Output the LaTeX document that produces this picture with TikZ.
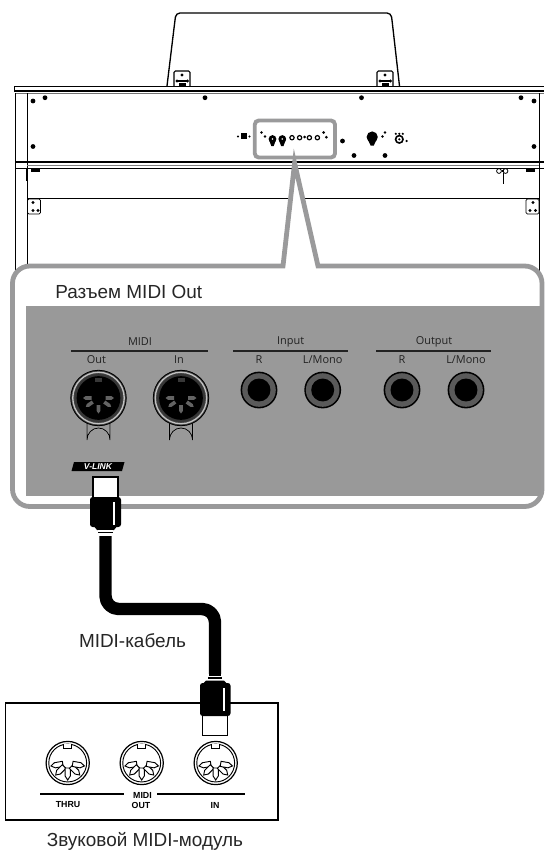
\documentclass[tikz,border=0pt]{standalone}
\usepackage{fontspec}
\setmainfont{Liberation Sans}
\newfontfamily\panelfont{Open Sans}
\definecolor{calloutgrey}{HTML}{9A9A9B}
\definecolor{panelgrey}{HTML}{999999}
\definecolor{ringgrey}{HTML}{5A5A5A}
\definecolor{panelink}{HTML}{222222}
\tikzset{
  ink/.style={draw=black,line width=0.8pt},
  thinink/.style={draw=black,line width=0.5pt},
  screw/.style={circle,fill=black,inner sep=0pt,minimum size=3.6pt},
  paneltext/.style={font=\panelfont\fontsize{8.2}{9}\selectfont,text=panelink,inner sep=0pt},
  bigtext/.style={font=\fontsize{14.2}{16}\selectfont,text=black!85,inner sep=0pt},
  smallbold/.style={font=\bfseries\fontsize{6.6}{7}\selectfont,text=black,inner sep=0pt},
  cablestyle/.style={draw=black,line width=9.3pt,line join=round},
  plugbody/.style={fill=black,rounded corners=2pt},
  plugtip/.style={fill=white,draw=black,line width=1pt},
}
% back-panel jack
\newcommand{\jackat}[2]{%
  \fill[black] (#1,#2) circle[radius=13.8pt];
  \fill[ringgrey] (#1,#2) circle[radius=12.6pt];
  \fill[black] (#1,#2) circle[radius=8.6pt];
}
% grey panel MIDI socket
\newcommand{\gsocket}[2]{%
  \draw[panelgrey!60!white,line width=1pt,fill=panelgrey!88!white]
    ({#1-11.5},{#2+26}) -- ({#1-11.5},{#2+42}) arc[start angle=180,end angle=360,x radius=11.5,y radius=12] -- ({#1+11.5},{#2+26});
  \draw[black,line width=0.6pt,fill=panelgrey] ({#1-11.5},{#2+25}) -- ({#1-11.5},{#2+42}) arc[start angle=180,end angle=360,x radius=11.5,y radius=12] -- ({#1+11.5},{#2+25});
  \fill[black!75] (#1,#2) circle[radius=21pt];
  \draw[panelgrey!60!white,line width=1pt] (#1,#2) circle[radius=19.3pt];
  \draw[black,line width=0.6pt] (#1,#2) circle[radius=20.8pt];
  \fill[panelgrey!35!black] (#1,#2) circle[radius=18pt];
  \fill[black] (#1,#2) circle[radius=16.4pt];
  \fill[black!78] ({#1-3.5},{#2-20}) rectangle ({#1+3.5},{#2-16});
  \foreach \a in {180,215,270,325,360}{
    \begin{scope}[shift={(#1,#2)},rotate=\a]
      \fill[panelgrey!65!black] (7,-1.8) -- (13,-1.8) -- (15.5,0) -- (13,1.8) -- (7,1.8) -- cycle;
    \end{scope}}
}
% line-art DIN socket
\newcommand{\din}[2]{%
  \draw[black,line width=0.9pt,fill=white] (#1,#2) circle[radius=16.2pt];
  \draw[black,line width=0.7pt] (#1,#2) circle[radius=14.2pt];
  \draw[black,line width=0.7pt,fill=white] ({#1-4},{#2-19.5}) -- ({#1-4},{#2-15}) -- ({#1+4},{#2-15}) -- ({#1+4},{#2-19.5});
  \foreach \a in {190,225,270,315,350}{
    \begin{scope}[shift={(#1,#2)},rotate=\a]
      \draw[black,line width=0.7pt,fill=white] (5,-2.6) -- (13,-2.6) -- (17,0) -- (13,2.6) -- (5,2.6) -- cycle;
    \end{scope}}
}
\begin{document}
\begin{tikzpicture}[x=0.75pt,y=-0.75pt]
\useasboundingbox (0,0) rectangle (544,851);
\fill[white] (0,0) rectangle (544,851);

% ---------- piano ----------
% music stand
\draw[ink,line width=1pt,rounded corners=3pt] (167,86) -- (175,20) -- (176,13) -- (391,13) -- (392,20) -- (399.5,86);
% stand brackets
\foreach \bx in {174,377}{
  \draw[ink,fill=white,rounded corners=1pt] (\bx,86) -- (\bx,71) -- ({\bx+16},71) -- ({\bx+16},86);
  \foreach \dx/\dy in {8/75,3/81,13.5/81}{\fill[black] ({\bx+\dx},\dy) circle[radius=1.3pt];}
  \draw[black,line width=0.9pt] ({\bx+3},81) -- ({\bx+13.5},81);
  \fill[black] ({\bx+5},82.5) rectangle ({\bx+12},86);
}
% top board
\fill[white] (14,86) rectangle (544,93);
\draw[black,line width=1.3pt] (14,86.5) -- (544,86.5);
\draw[black,line width=1.4pt] (14,91.2) -- (544,91.2);
\draw[black,line width=0.5pt] (14,86) -- (14,92);
\draw[black!55,line width=0.7pt] (15,93) -- (544,93);
% panel sides and legs
\draw[thinink] (15.6,93) -- (15.6,280);
\draw[thinink,line width=0.7pt] (27.5,93) -- (27.5,280);
\draw[thinink,line width=0.7pt] (539,93) -- (539,280);
\draw[black,line width=1.1pt] (15.6,162) -- (544,162);
\draw[black,line width=0.7pt] (15,168.5) -- (544,168.5);
\draw[black!50,line width=0.5pt] (27,165) -- (539,165);
\draw[black,line width=0.6pt] (27,198) -- (539,198);
% leg brackets
\foreach \bx/\ca/\cb in {27.5/33/38,526/530/536}{
  \draw[ink,line width=0.6pt,rounded corners=1pt] (\bx,199) rectangle ({\bx+13},214);
}
\foreach \px/\py in {33/202.5,33/210.5,38/210.5,533/202.5,530/210.5,535.5/210.5}{\fill[black] (\px,\py) circle[radius=1.2pt];}
% feet
\fill[black] (31,167.5) rectangle (40,171.5);
\fill[black] (526,167.5) rectangle (535,171.5);
\draw[black,line width=1pt] (27,168) -- (27,181);
% pedal cord
\draw[black,line width=0.6pt] (499,171) circle[radius=1.8pt] (505.5,171) circle[radius=1.8pt];
\draw[black,line width=0.8pt] (502,171) -- (503.5,171) (503.5,173) -- (503.5,184);
\draw[black,line width=1.3pt] (503.5,176) -- (503.5,184);
% screws
\foreach \sx/\sy in {33/101,45/97.7,205/97.7,361.5/97.7,521/97.7,534/101,33/146.5,534/146.5,342.5/141,354/155.5,385/155.5}{
  \node[screw] at (\sx,\sy) {};
}
% central jacks
\fill[black] (241,133) rectangle (247,139);
\foreach \sx/\sy in {238,249.5}{\fill[black] (\sx,136.5) circle[radius=0.9pt];}
\foreach \sx/\sy in {261.5/132.5,265/136.5,323.6/132.5,326.4/137.2,382.5/136.5,385/132.5}{
  \fill[black] (\sx,\sy) circle[radius=1.1pt];
}
\foreach \jx in {272.5,282.3}{
  \fill[black] (\jx,139) circle[radius=2.9pt];
  \fill[black] ({\jx-3.4},140) -- ({\jx+3.4},140) -- ({\jx+1.2},146) -- ({\jx-1.2},146) -- cycle;
  \fill[white] (\jx,139) circle[radius=0.7pt];
}
\foreach \jx in {292,299.6,309.4,317.4}{
  \draw[black,line width=0.9pt] (\jx,137.7) circle[radius=1.6pt];
}
\fill[black] (304.6,137) circle[radius=1.1pt];
\fill[black] (372.2,137) circle[radius=4.2pt];
\fill[black] (367.2,138) -- (377.2,138) -- (373.8,145.5) -- (370.6,145.5) -- cycle;
\draw[black,line width=1.2pt] (399.3,139.3) circle[radius=2.8pt];
\fill[black] (399.3,139.3) circle[radius=0.9pt];
\foreach \sx/\sy in {395.8/133.8,399.3/133.8,402.8/133.8,406.6/141}{\fill[black] (\sx,\sy) circle[radius=0.9pt];}

% ---------- highlight and call-out ----------
\draw[calloutgrey,line width=2.9pt,rounded corners=3pt] (254.8,120.5) rectangle (335,157.5);
\draw[calloutgrey,line width=3.6pt,fill=white,line join=miter]
  (294.6,163) -- (283,266) [rounded corners=13pt] -- (12.5,266) -- (12.5,506.5) -- (542,506.5) [rounded corners=13pt] -- (542,266)  [sharp corners] -- (318,266) -- cycle;

% grey panel
\fill[panelgrey] (26,306) rectangle (541,496);
\node[bigtext,anchor=west] (title) at (55,292) {Разъем MIDI Out};

% panel labels
\draw[panelink,line width=0.9pt] (71,351) -- (208,351);
\draw[panelink,line width=0.9pt] (233,351) -- (348,351);
\draw[panelink,line width=0.9pt] (376,351) -- (491,351);
\node[paneltext] (lmidi) at (140,341.5) {MIDI};
\node[paneltext] (linput) at (290.7,341.5) {Input};
\node[paneltext] (loutput) at (434,341.5) {Output};
\node[paneltext] (lout) at (96.5,360) {Out};
\node[paneltext] (lin) at (179,360) {In};
\node[paneltext] (lir) at (259,360) {R};
\node[paneltext] (lil) at (322.7,360) {L/Mono};
\node[paneltext] (lor) at (402,360) {R};
\node[paneltext] (lol) at (466,360) {L/Mono};

\gsocket{98.5}{398}
\gsocket{181}{398}
\jackat{259}{390}
\jackat{322.7}{390}
\jackat{402}{390}
\jackat{466}{390}

% V-LINK badge
\fill[black] (74,462) -- (124.5,462) -- (122,471) -- (71.5,471) -- cycle;
\node[font=\bfseries\itshape\fontsize{6.4}{7}\selectfont,text=white,inner sep=0pt] (vlink) at (98,466.5) {V-LINK};

% ---------- cable ----------
\coordinate (cabletop) at (105.5,536);
\coordinate (bendA) at (105.5,609);
\coordinate (bendB) at (215,609);
\coordinate (cablebottom) at (215,676);
\draw[cablestyle] (cabletop) -- (105.5,596) arc[start angle=180,end angle=90,radius=13] -- (202,609) arc[start angle=-90,end angle=0,radius=13] -- (cablebottom);

% upper plug
\draw[plugtip] (93,477) rectangle (118,498);
\fill[plugbody] (90,497) rectangle (121,527);
\fill[black] (93,525) -- (118,525) -- (114,530) -- (97,530) -- cycle;
\fill[white] (113,502) rectangle (115,525);
\fill[black] (98,531.5) rectangle (113,532.8);
\fill[white] (98,530) rectangle (113,531.5);
\fill[white] (99,534) rectangle (112,535);

% module box
\draw[black,line width=1pt,fill=white] (5.7,703) rectangle (278,820);
\din{67.7}{763}
\din{141.7}{763}
\din{215.7}{763}
\draw[black,line width=0.9pt] (40,794) -- (124,794) (157,794) -- (245,794);
\node[smallbold] (mmidi) at (142.5,795) {MIDI};
\node[smallbold] (mout) at (141,805) {OUT};
\node[smallbold] (mthru) at (68,805) {THRU};
\node[smallbold] (min) at (215,805) {IN};

% lower plug
\fill[white] (207,674) rectangle (223,683);
\fill[black] (209,673) rectangle (221,676);
\fill[white] (208,676) rectangle (222,677);
\fill[black] (208,677) rectangle (222,679);
\fill[white] (207,679) rectangle (223,680);
\draw[plugtip] (202.5,715) rectangle (227.5,735.5);
\fill[black] (206,680.5) -- (224,680.5) -- (227,683.5) -- (203,683.5) -- cycle;
\fill[plugbody] (200,683) rectangle (230.5,716);
\fill[white] (222.8,688) rectangle (224.6,711);

% captions
\node[bigtext] (cable) at (132.5,641) {MIDI-кабель};
\node[bigtext] (module) at (145,841) {Звуковой MIDI-модуль};
\end{tikzpicture}
\end{document}
